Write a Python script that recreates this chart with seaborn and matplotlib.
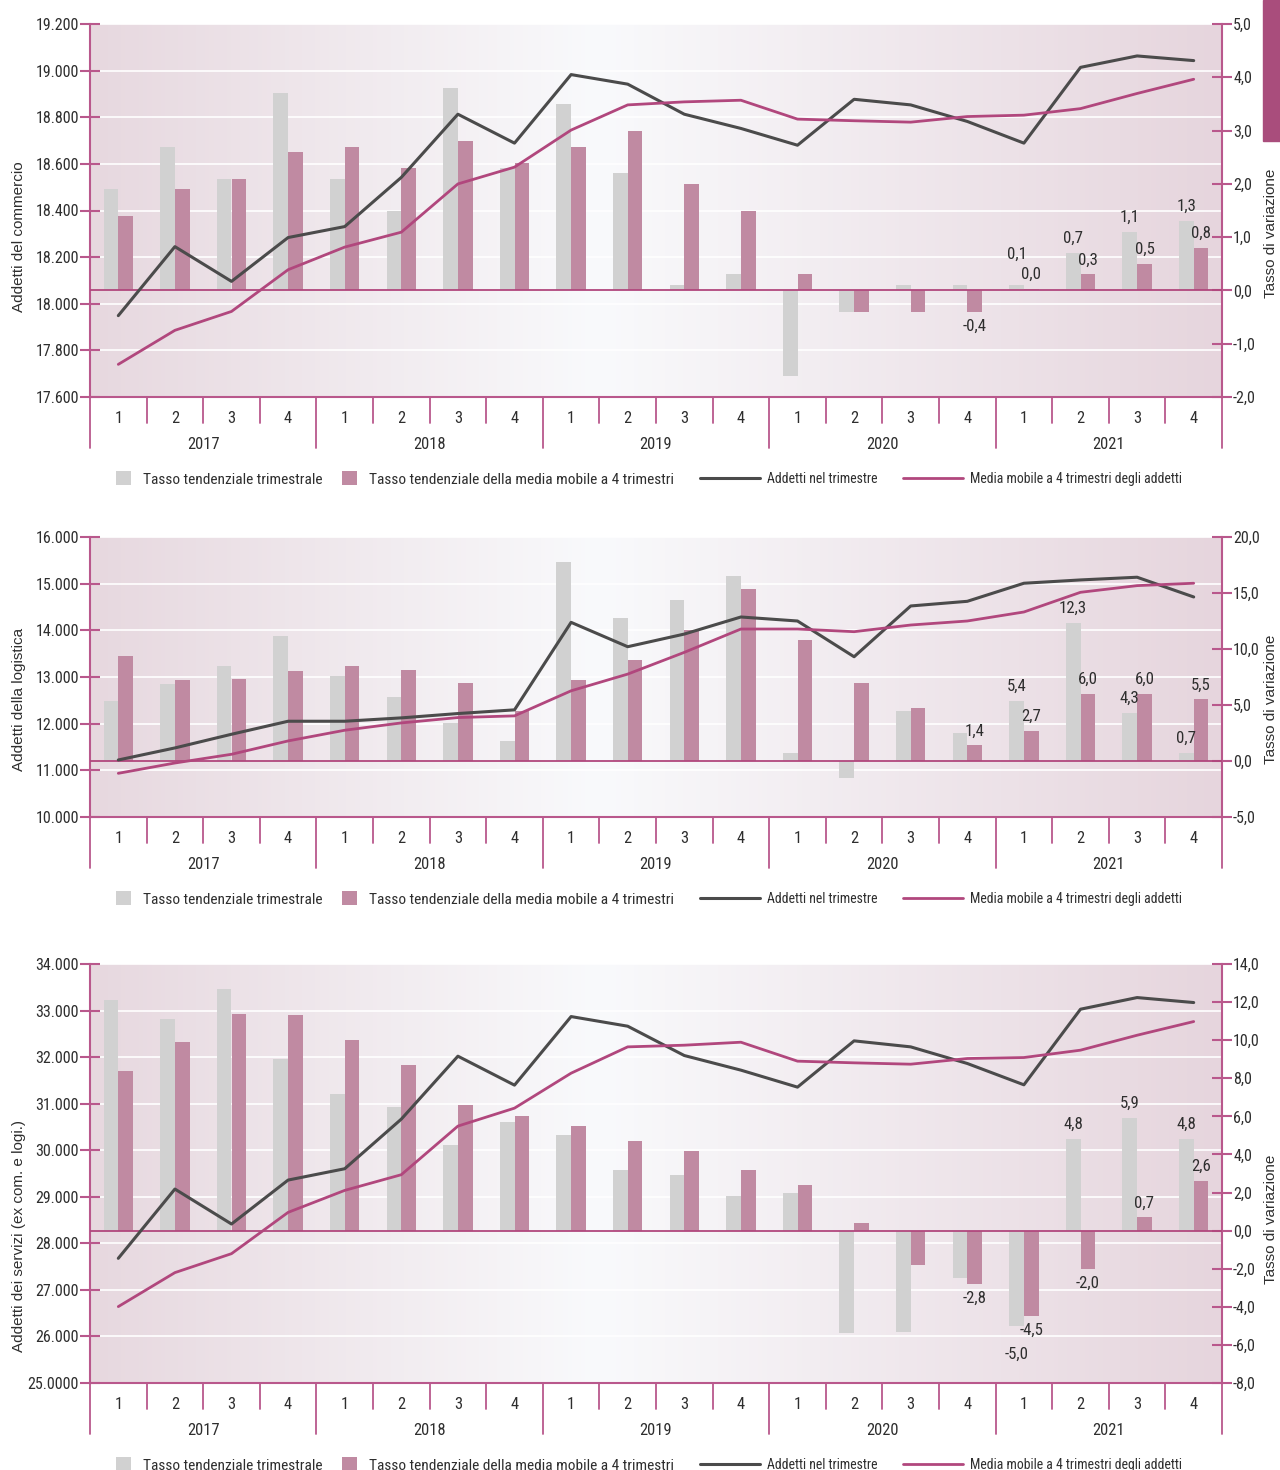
import numpy as np
import pandas as pd
import matplotlib
matplotlib.use('Agg')
import matplotlib.pyplot as plt
import seaborn as sns
from matplotlib import font_manager
from matplotlib.patches import Patch, Rectangle
from matplotlib.lines import Line2D
from matplotlib.colors import LinearSegmentedColormap

anni = ['2017', '2018', '2019', '2020', '2021']
trimestri = ['1', '2', '3', '4']
periodi = [f'{a}-{t}' for a in anni for t in trimestri]

# periodi con etichetta di valore
etich_trim = ['2021-1', '2021-2', '2021-3', '2021-4']
etich_mm = ['2020-4', '2021-1', '2021-2', '2021-3', '2021-4']

# --- commercio ---
comm_tasso_trim = [1.9, 2.7, 2.1, 3.7, 2.1, 1.5, 3.8, 2.3, 3.5, 2.2,
                   0.1, 0.3, -1.6, -0.4, 0.1, 0.1, 0.1, 0.7, 1.1, 1.3]
comm_tasso_mm = [1.4, 1.9, 2.1, 2.6, 2.7, 2.3, 2.8, 2.4, 2.7, 3.0,
                 2.0, 1.5, 0.3, -0.4, -0.4, -0.4, 0.03, 0.3, 0.5, 0.8]
comm_addetti = [17949, 18245, 18096, 18284, 18331, 18542, 18813, 18689, 18983, 18942,
                18813, 18752, 18680, 18877, 18853, 18782, 18689, 19014, 19063, 19043]
comm_media = [17740, 17886, 17967, 18146, 18243, 18307, 18514, 18586, 18745, 18853,
              18866, 18873, 18792, 18785, 18779, 18803, 18809, 18837, 18902, 18963]
comm_ticks = [17600, 17800, 18000, 18200, 18400, 18600, 18800, 19000, 19200]
comm_tick_lab = ['17.600', '17.800', '18.000', '18.200', '18.400', '18.600', '18.800', '19.000', '19.200']
comm_rticks = [-2, -1, 0, 1, 2, 3, 4, 5]

# --- logistica ---
log_tasso_trim = [5.4, 6.9, 8.5, 11.2, 7.6, 5.7, 3.4, 1.8, 17.8, 12.8,
                  14.4, 16.5, 0.7, -1.5, 4.5, 2.5, 5.4, 12.3, 4.3, 0.7]
log_tasso_mm = [9.4, 7.2, 7.3, 8.0, 8.5, 8.1, 7.0, 4.5, 7.2, 9.0,
                11.7, 15.4, 10.8, 7.0, 4.7, 1.4, 2.7, 6.0, 6.0, 5.5]
log_addetti = [11222, 11480, 11773, 12052, 12052, 12124, 12217, 12296, 14171, 13649,
               13920, 14286, 14200, 13434, 14522, 14622, 15009, 15080, 15138, 14715]
log_media = [10936, 11157, 11344, 11630, 11859, 12016, 12131, 12167, 12704, 13062,
             13528, 14028, 14028, 13971, 14114, 14200, 14393, 14815, 14958, 15009]
log_ticks = [10000, 11000, 12000, 13000, 14000, 15000, 16000]
log_tick_lab = ['10.000', '11.000', '12.000', '13.000', '14.000', '15.000', '16.000']
log_rticks = [-5, 0, 5, 10, 15, 20]

# --- servizi ---
serv_tasso_trim = [12.1, 11.1, 12.7, 9.0, 7.2, 6.5, 4.5, 5.7, 5.0, 3.2,
                   2.9, 1.8, 2.0, -5.4, -5.3, -2.5, -5.0, 4.8, 5.9, 4.8]
serv_tasso_mm = [8.4, 9.9, 11.4, 11.3, 10.0, 8.7, 6.6, 6.0, 5.5, 4.7,
                 4.2, 3.2, 2.4, 0.4, -1.8, -2.8, -4.5, -2.0, 0.7, 2.6]
serv_addetti = [27678, 29166, 28415, 29359, 29602, 30668, 32020, 31398, 32871, 32664,
                32034, 31720, 31355, 32349, 32220, 31863, 31405, 33029, 33279, 33172]
serv_media = [26641, 27371, 27778, 28665, 29137, 29474, 30518, 30904, 31655, 32220,
              32256, 32320, 31913, 31877, 31848, 31970, 31991, 32149, 32470, 32764]
serv_ticks = [25000, 26000, 27000, 28000, 29000, 30000, 31000, 32000, 33000, 34000]
serv_tick_lab = ['25.0000', '26.000', '27.000', '28.000', '29.000', '30.000', '31.000',
                 '32.000', '33.000', '34.000']
serv_rticks = [-8, -6, -4, -2, 0, 2, 4, 6, 8, 10, 12, 14]

nome_trim = 'Tasso tendenziale trimestrale'
nome_mm = 'Tasso tendenziale della media mobile a 4 trimestri'
nome_add = 'Addetti nel trimestre'
nome_media = 'Media mobile a 4 trimestri degli addetti'

GRIGIO = '#d1d1d1'
ROSA_BAR = '#c08aa2'
NERO = '#4b4b4b'
ROSA_LINEA = '#b1477d'
ROSA_ASSE = '#b9588c'
TESTO = '#2e2e2e'

sns.set_theme(style='white')

# carattere stretto se disponibile, altrimenti Liberation Sans
installati = {f.name for f in font_manager.fontManager.ttflist}
FONT, SC = 'Liberation Sans', 1.0
for nome in ['Roboto Condensed', 'Liberation Sans Narrow', 'Open Sans Condensed']:
    if nome in installati:
        FONT, SC = nome, 1.15
        break
plt.rcParams['font.family'] = [FONT, 'DejaVu Sans']
plt.rcParams['text.color'] = TESTO

W, H = 1280, 1470
fig = plt.figure(figsize=(W / 100, H / 100), dpi=100)
fig.patch.set_facecolor('white')

sfondo = LinearSegmentedColormap.from_list(
    'sfondo', [(0.0, '#e7d8df'), (0.45, '#f9fafc'), (1.0, '#e6d5dd')])

# banda rosa in alto a destra
fig.patches.append(Rectangle((1263 / W, 1 - 141 / H), 17 / W, 141 / H,
                             transform=fig.transFigure, color='#a94d7c', zorder=0))


def fmt(v):
    return f'{v:.1f}'.replace('.', ',')


def pannello(top, bottom, trim, mm, addetti, media, yticks, ytick_lab, rticks,
             ylabel, ylab_y, rlab_y):
    rect = [90 / W, 1 - bottom / H, 1132 / W, (bottom - top) / H]
    h_px = bottom - top

    ax_img = fig.add_axes(rect, zorder=-1)
    ax_img.imshow(np.linspace(0, 1, 256)[None, :], cmap=sfondo, aspect='auto',
                  extent=(0, 1, 0, 1))
    ax_img.axis('off')

    ax = fig.add_axes(rect)
    ax.patch.set_visible(False)
    ax_bar = ax.twinx()
    ax_line = ax.twinx()

    # barre
    df_bar = pd.DataFrame({
        'periodo': periodi * 2,
        'serie': [nome_trim] * len(periodi) + [nome_mm] * len(periodi),
        'valore': list(trim) + list(mm),
    })
    sns.barplot(data=df_bar, x='periodo', y='valore', hue='serie', order=periodi,
                hue_order=[nome_trim, nome_mm], palette=[GRIGIO, ROSA_BAR],
                width=0.52, gap=0, saturation=1, linewidth=0, errorbar=None,
                legend=False, ax=ax_bar)
    ax_bar.axhline(0, color=ROSA_LINEA, lw=1.3, zorder=3)

    # linee
    pos = np.arange(len(periodi))
    sns.lineplot(x=pos, y=addetti, color=NERO, lw=2.2, ax=ax_line)
    sns.lineplot(x=pos, y=media, color=ROSA_LINEA, lw=2.0, ax=ax_line)

    # etichette di valore
    rng = rticks[-1] - rticks[0]
    for serie, vals, dx, sel in [(nome_trim, trim, -0.13, etich_trim),
                                 (nome_mm, mm, 0.13, etich_mm)]:
        for p in sel:
            i = periodi.index(p)
            v = vals[i]
            off = 5 if v >= 0 else -5
            if serie == nome_trim and v < 0 and mm[i] < 0:
                off = -15
            if serie == nome_trim and v >= 0 and mm[i] >= 0 and 0 <= v - mm[i] < 0.03 * rng:
                off = 17
            ax_bar.annotate(fmt(v), xy=(i + dx, v), xytext=(0, off),
                            textcoords='offset points', ha='center',
                            va='bottom' if v >= 0 else 'top', fontsize=10.5 * SC,
                            color=TESTO)

    ax.set_xlim(-0.5, len(periodi) - 0.5)
    ax.set_ylim(yticks[0], yticks[-1])
    ax_line.set_ylim(yticks[0], yticks[-1])
    ax_bar.set_ylim(rticks[0], rticks[-1])

    # asse sinistro
    ax.set_yticks(yticks, ytick_lab)
    ax.grid(axis='y', color='white', lw=1.2)
    ax.grid(axis='x', visible=False)
    ax.tick_params(axis='y', direction='inout', length=14, width=1.5, color=ROSA_ASSE,
                   labelsize=10 * SC, labelcolor=TESTO, pad=1, left=True)
    ax.set_ylabel(ylabel, fontsize=11, family='Liberation Sans', color=TESTO)
    ax.yaxis.set_label_coords(-64 / 1132, ylab_y)

    # asse x
    ax.set_xticks(pos, trimestri * len(anni))
    ax.tick_params(axis='x', length=0, pad=10, labelsize=10.3 * SC, labelcolor=TESTO)
    ax.set_xlabel('')
    for s in ['top', 'right']:
        ax.spines[s].set_visible(False)
    for s in ['left', 'bottom']:
        ax.spines[s].set_color(ROSA_ASSE)
        ax.spines[s].set_linewidth(1.5)

    xt = ax.get_xaxis_transform()
    for k in range(len(periodi) + 1):
        lung = 51 if k % 4 == 0 else 26
        ax.plot([k - 0.5, k - 0.5], [0, -lung / h_px], transform=xt, clip_on=False,
                color=ROSA_ASSE, lw=1.3)
    for j, a in enumerate(anni):
        ax.annotate(a, xy=(4 * j + 1.5, 0), xycoords=('data', 'axes fraction'),
                    xytext=(0, -34), textcoords='offset points', ha='center',
                    va='center', fontsize=10.3 * SC, color=TESTO)

    # asse destro
    ax_bar.set_yticks(rticks, [fmt(v) for v in rticks])
    ax_bar.tick_params(axis='y', direction='inout', length=14, width=1.5,
                       color=ROSA_ASSE, labelsize=10 * SC, labelcolor=TESTO, pad=1,
                       right=True)
    ax_bar.set_ylabel('Tasso di variazione', fontsize=11, family='Liberation Sans',
                      color=TESTO)
    ax_bar.yaxis.set_label_coords(1174 / 1132, rlab_y)
    for s in ['top', 'left', 'bottom']:
        ax_bar.spines[s].set_visible(False)
    ax_bar.spines['right'].set_color(ROSA_ASSE)
    ax_bar.spines['right'].set_linewidth(1.5)
    ax_bar.grid(False)

    ax_line.set_yticks([])
    ax_line.set_ylabel('')
    for s in ax_line.spines.values():
        s.set_visible(False)
    ax_line.grid(False)

    # legende
    leg_y = -82 / h_px
    h_bar = [Patch(facecolor=GRIGIO, edgecolor='none'),
             Patch(facecolor=ROSA_BAR, edgecolor='none')]
    leg1 = ax.legend(h_bar, [nome_trim, nome_mm], loc='center left',
                     bbox_to_anchor=(26 / 1132, leg_y), ncol=2, frameon=False,
                     fontsize=9.65 * SC, handlelength=1.0, handleheight=1.0,
                     handletextpad=0.75, columnspacing=1.25, borderpad=0, borderaxespad=0)
    ax.add_artist(leg1)
    h_lin = [Line2D([], [], color=NERO, lw=2.2), Line2D([], [], color=ROSA_LINEA, lw=2.0)]
    ax.legend(h_lin, [nome_add, nome_media], loc='center left',
              bbox_to_anchor=(610 / 1132, leg_y), ncol=2, frameon=False,
              fontsize=8.6 * SC, handlelength=4.4, handletextpad=0.5, columnspacing=1.8,
              borderpad=0, borderaxespad=0)


pannello(24, 397, comm_tasso_trim, comm_tasso_mm, comm_addetti, comm_media,
         comm_ticks, comm_tick_lab, comm_rticks, 'Addetti del commercio', 0.43, 0.44)
pannello(537, 817, log_tasso_trim, log_tasso_mm, log_addetti, log_media,
         log_ticks, log_tick_lab, log_rticks, 'Addetti della logistica', 0.42, 0.42)
pannello(964, 1383, serv_tasso_trim, serv_tasso_mm, serv_addetti, serv_media,
         serv_ticks, serv_tick_lab, serv_rticks, 'Addetti dei servizi (ex com. e logi.)',
         0.35, 0.39)

fig.savefig('out.png', dpi=100, facecolor='white')
